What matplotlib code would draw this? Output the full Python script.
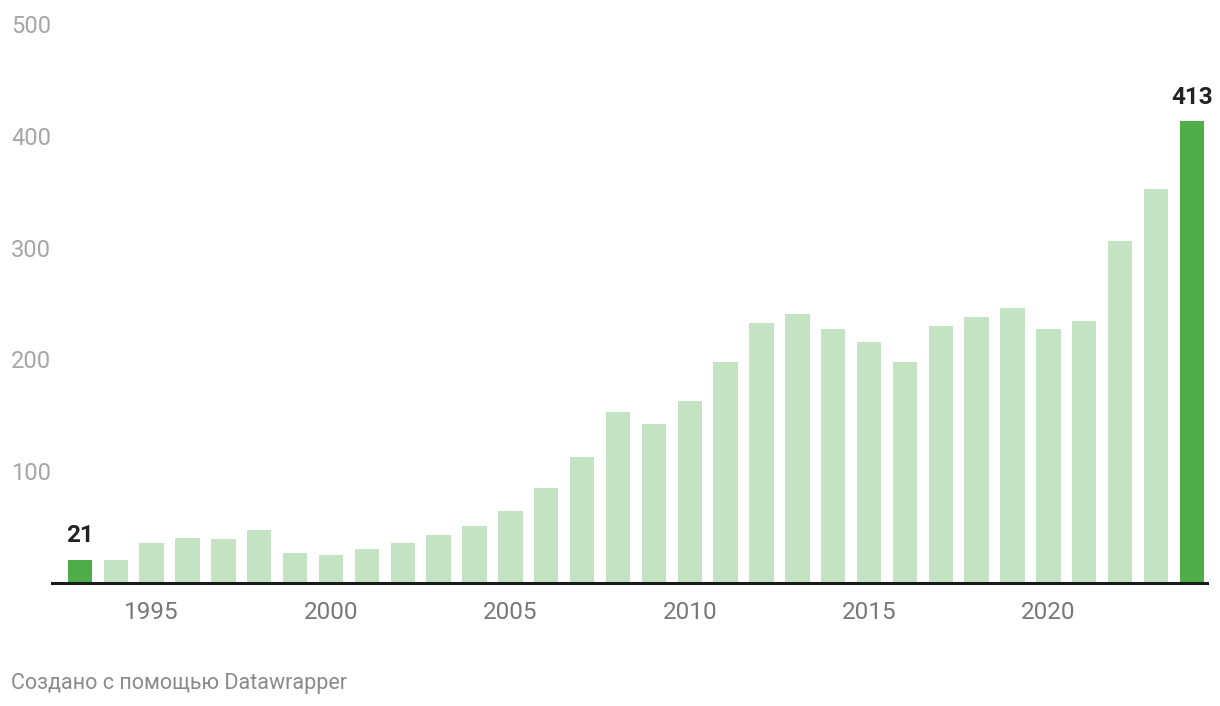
import matplotlib.pyplot as plt

plt.rcParams['font.family'] = ['Roboto', 'DejaVu Sans']

years = list(range(1993, 2025))
values = [21, 21, 36, 40, 39, 47, 27, 25, 30, 36, 43, 51, 64, 85, 113,
          153, 142, 163, 198, 233, 241, 227, 216, 198, 230, 238, 246,
          227, 234, 306, 352, 413]
highlight = [1993, 2024]
x_ticks = [1995, 2000, 2005, 2010, 2015, 2020]
y_ticks = [100, 200, 300, 400, 500]

light = '#c3e3c2'
dark = '#4fae4a'
colors = [dark if y in highlight else light for y in years]

fig = plt.figure(figsize=(12.2, 7.06), dpi=100)
ax = fig.add_axes([0.0426, 0.1742, 0.9467, 0.7918])

ax.bar(years, values, width=0.68, color=colors, zorder=2)

ax.set_xlim(1993 - 0.78, 2024 + 0.42)
ax.set_ylim(0, 500)

for s in ['top', 'right', 'left']:
    ax.spines[s].set_visible(False)
ax.spines['bottom'].set_color('#1a1a1a')
ax.spines['bottom'].set_linewidth(2.2)
ax.spines['bottom'].set_zorder(3)

ax.set_xticks(x_ticks)
ax.set_xticklabels([str(t) for t in x_ticks])
ax.tick_params(axis='x', length=0, pad=13, labelsize=17.5, labelcolor='#777777')

ax.set_yticks(y_ticks)
ax.set_yticklabels([str(t) for t in y_ticks])
ax.tick_params(axis='y', length=0, pad=29.5, labelsize=17, labelcolor='#a6a6a6')
for lbl in ax.get_yticklabels():
    lbl.set_horizontalalignment('left')

for y, v in zip(years, values):
    if y in highlight:
        ax.annotate(str(v), (y, v), xytext=(0, 9), textcoords='offset points',
                    ha='center', va='bottom', fontsize=17.5, fontweight='bold',
                    color='#222222')

fig.text(11 / 1220, 1 - 683 / 706, 'Создано с помощью Datawrapper',
         ha='left', va='center', fontsize=15.5, color='#8a8a8a')

fig.savefig('out.png', dpi=100)
